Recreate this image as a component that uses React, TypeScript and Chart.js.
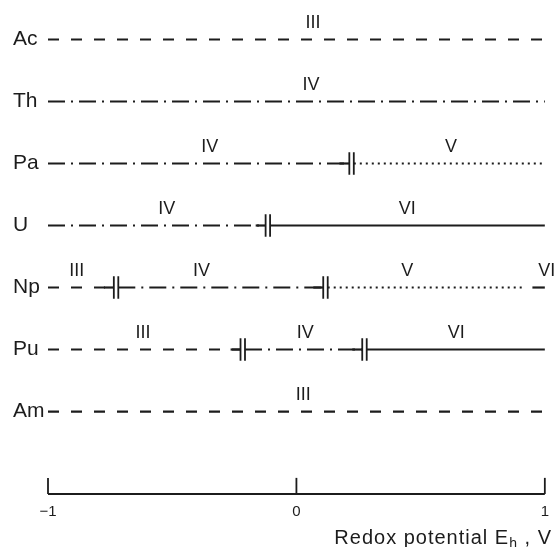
import React, { useEffect, useRef } from 'react';
import { Chart, registerables } from 'chart.js';

Chart.register(...registerables);

// Actinide elements, one row each from top to bottom
const ELEMENTS = ['Ac', 'Th', 'Pa', 'U', 'Np', 'Pu', 'Am'];

// Oxidation states found across the potential window, in order of rising Eh
const AC_STATES = ['III'];
const TH_STATES = ['IV'];
const PA_STATES = ['IV', 'V'];
const U_STATES = ['IV', 'VI'];
const NP_STATES = ['III', 'IV', 'V', 'VI'];
const PU_STATES = ['III', 'IV', 'VI'];
const AM_STATES = ['III'];

// Potentials (V) where each state range starts and ends
const AC_BOUNDS = [-1, 1];
const TH_BOUNDS = [-1, 1];
const PA_BOUNDS = [-1, 0.213, 1];
const U_BOUNDS = [-1, -0.124, 1];
const NP_BOUNDS = [-1, -0.735, 0.108, 0.93, 1];
const PU_BOUNDS = [-1, -0.225, 0.265, 1];
const AM_BOUNDS = [-1, 1];

// Whether each inner boundary is a marked couple (double bar)
const PA_MARKED = [true];
const U_MARKED = [true];
const NP_MARKED = [true, true, false];
const PU_MARKED = [true, true];

// Potential (V) above which each state name is written
const AC_LABEL_AT = [0.067];
const TH_LABEL_AT = [0.059];
const PA_LABEL_AT = [-0.349, 0.622];
const U_LABEL_AT = [-0.522, 0.446];
const NP_LABEL_AT = [-0.884, -0.382, 0.446, 1.008];
const PU_LABEL_AT = [-0.618, 0.036, 0.643];
const AM_LABEL_AT = [0.028];

// Potential axis ticks (V)
const X_TICKS = [-1, 0, 1];

// Layout of the row scale: rows sit at 0..6, the potential axis below them
const AXIS_ROW = 7.33;
const ROW_MIN = -0.411;

const INK = '#1c1c1c';
const FONT = '"Liberation Sans", Arial, sans-serif';

// Line pattern for each oxidation state
const DASH: Record<string, number[]> = {
  III: [11, 12],
  IV: [17, 6, 2, 6],
  V: [2, 4],
  VI: [],
};

type Row = { states: string[]; bounds: number[]; marked: boolean[]; labelAt: number[] };

const ROWS: Row[] = [
  { states: AC_STATES, bounds: AC_BOUNDS, marked: [], labelAt: AC_LABEL_AT },
  { states: TH_STATES, bounds: TH_BOUNDS, marked: [], labelAt: TH_LABEL_AT },
  { states: PA_STATES, bounds: PA_BOUNDS, marked: PA_MARKED, labelAt: PA_LABEL_AT },
  { states: U_STATES, bounds: U_BOUNDS, marked: U_MARKED, labelAt: U_LABEL_AT },
  { states: NP_STATES, bounds: NP_BOUNDS, marked: NP_MARKED, labelAt: NP_LABEL_AT },
  { states: PU_STATES, bounds: PU_BOUNDS, marked: PU_MARKED, labelAt: PU_LABEL_AT },
  { states: AM_STATES, bounds: AM_BOUNDS, marked: [], labelAt: AM_LABEL_AT },
];

const BAR_GAP = 0.018; // spacing of the double bar, V
const BAR_HALF = 0.18; // half height of the double bar, rows
const STUB = 0.04; // solid lead-in before a marked couple, V
const OPEN_GAP = 0.02; // gap left at an unmarked change of state, V
const TICK_LEN = 0.26; // axis tick height, rows

function seg(x0: number, y0: number, x1: number, y1: number, dash: number[] = [], width = 2.2) {
  return {
    data: [
      { x: x0, y: y0 },
      { x: x1, y: y1 },
    ],
    showLine: true,
    borderColor: INK,
    borderWidth: width,
    borderDash: dash,
    borderCapStyle: 'butt' as const,
    pointRadius: 0,
    pointHoverRadius: 0,
    fill: false,
    clip: false as const,
  };
}

function buildDatasets() {
  const sets: any[] = [];
  ROWS.forEach((row, i) => {
    const n = row.states.length;
    row.states.forEach((state, k) => {
      let from = row.bounds[k];
      let to = row.bounds[k + 1];
      if (k > 0 && !row.marked[k - 1]) from += OPEN_GAP;
      if (k > 0 && row.marked[k - 1]) from += BAR_GAP;
      if (k < n - 1 && !row.marked[k]) to -= OPEN_GAP;
      sets.push(seg(from, i, to, i, DASH[state]));
    });
    for (let k = 1; k < n; k++) {
      if (!row.marked[k - 1]) continue;
      const b = row.bounds[k];
      sets.push(seg(b - STUB, i, b, i));
      sets.push(seg(b, i - BAR_HALF, b, i + BAR_HALF, [], 1.8));
      sets.push(seg(b + BAR_GAP, i - BAR_HALF, b + BAR_GAP, i + BAR_HALF, [], 1.8));
    }
  });
  // potential axis with upward ticks
  sets.push(seg(X_TICKS[0], AXIS_ROW, X_TICKS[X_TICKS.length - 1], AXIS_ROW, [], 2));
  X_TICKS.forEach((t) => sets.push(seg(t, AXIS_ROW, t, AXIS_ROW - TICK_LEN, [], 1.8)));
  return sets;
}

// Writes the oxidation state above each range and the axis title
const annotations = {
  id: 'stateAnnotations',
  afterDatasetsDraw(chart: any) {
    const { ctx, scales } = chart;
    const xs = scales.x;
    const ys = scales.y;
    ctx.save();
    ctx.fillStyle = INK;
    ctx.font = `18px ${FONT}`;
    ctx.textAlign = 'center';
    ctx.textBaseline = 'alphabetic';
    ROWS.forEach((row, i) => {
      row.states.forEach((state, k) => {
        const px = xs.getPixelForValue(row.labelAt[k]);
        const py = ys.getPixelForValue(i) - 11.5;
        ctx.fillText(state, px, py);
      });
    });

    // "Redox potential Eh , V" with subscript h, right aligned
    const main = 'Redox potential E';
    const sub = 'h';
    const tail = ' , V';
    ctx.textAlign = 'left';
    ctx.letterSpacing = '1px';
    ctx.font = `20px ${FONT}`;
    const wMain = ctx.measureText(main).width;
    const wTail = ctx.measureText(tail).width;
    ctx.font = `14px ${FONT}`;
    const wSub = ctx.measureText(sub).width;
    const right = 552;
    const base = 544;
    let x = right - (wMain + wSub + wTail);
    ctx.font = `20px ${FONT}`;
    ctx.fillText(main, x, base);
    x += wMain;
    ctx.font = `14px ${FONT}`;
    ctx.fillText(sub, x, base + 4);
    x += wSub;
    ctx.font = `20px ${FONT}`;
    ctx.fillText(tail, x, base);
    ctx.restore();
  },
};

export default function App() {
  const canvasRef = useRef<HTMLCanvasElement | null>(null);

  useEffect(() => {
    const canvas = canvasRef.current;
    if (!canvas) return;
    const chart = new Chart(canvas, {
      type: 'scatter',
      data: { datasets: buildDatasets() },
      options: {
        animation: false,
        responsive: false,
        devicePixelRatio: 1,
        events: [],
        layout: { padding: { left: 13, right: 12, top: 14, bottom: 0 } },
        plugins: {
          legend: { display: false },
          tooltip: { enabled: false },
        },
        scales: {
          x: {
            type: 'linear',
            min: X_TICKS[0],
            max: X_TICKS[X_TICKS.length - 1],
            grid: { display: false, drawTicks: false },
            border: { display: false },
            ticks: {
              color: INK,
              font: { family: FONT, size: 15 },
              padding: 9,
              maxRotation: 0,
              autoSkip: false,
              callback: (v: any) => (Number(v) < 0 ? '\u2212' + Math.abs(Number(v)) : String(v)),
            },
            afterBuildTicks: (s: any) => {
              s.ticks = X_TICKS.map((value) => ({ value }));
            },
            afterFit: (s: any) => {
              s.height = 53;
            },
          },
          y: {
            type: 'linear',
            reverse: true,
            min: ROW_MIN,
            max: AXIS_ROW,
            grid: { display: false, drawTicks: false },
            border: { display: false },
            ticks: {
              color: INK,
              font: { family: FONT, size: 21 },
              padding: 0,
              crossAlign: 'far',
              autoSkip: false,
              callback: (v: any) => ELEMENTS[Number(v)] ?? '',
            },
            afterBuildTicks: (s: any) => {
              s.ticks = ELEMENTS.map((_, i) => ({ value: i }));
            },
            afterFit: (s: any) => {
              s.width = 35;
            },
          },
        },
      },
      plugins: [annotations],
    });
    return () => chart.destroy();
  }, []);

  return (
    <div style={{ position: 'fixed', left: 0, top: 0, width: 558, height: 547, background: '#fff' }}>
      <canvas ref={canvasRef} width={558} height={547} style={{ display: 'block' }} />
    </div>
  );
}
